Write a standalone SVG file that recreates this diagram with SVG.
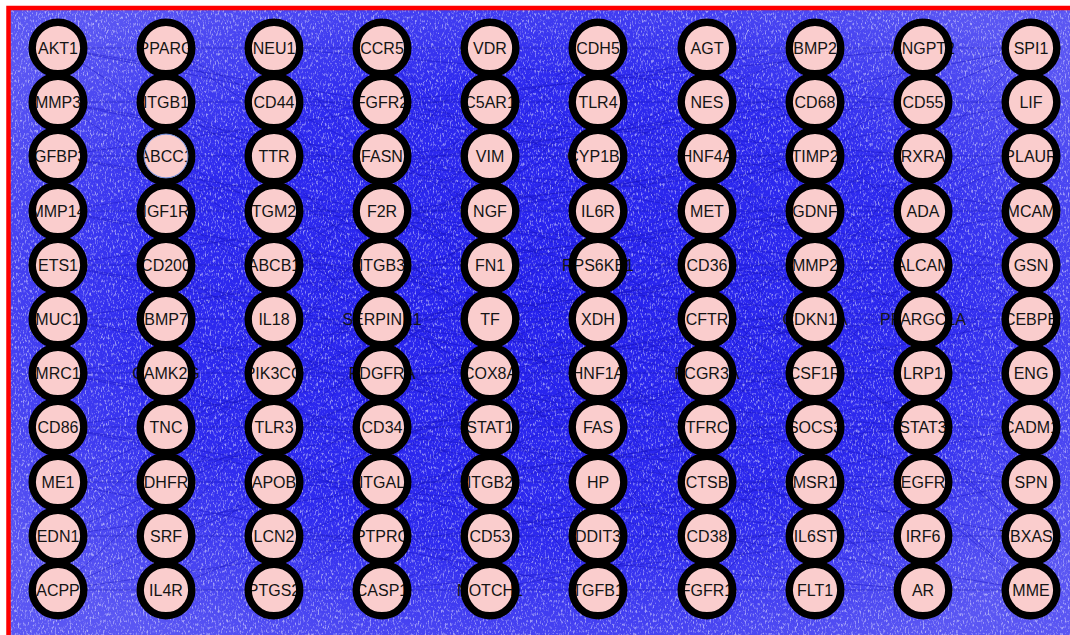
<svg xmlns="http://www.w3.org/2000/svg" width="1070" height="635" viewBox="0 0 1070 635">
<style>
.bg{fill:url(#bgGrad)}
.edge{fill:none;stroke:#1410b8;stroke-width:0.8;stroke-opacity:0.5}
.edge2{fill:none;stroke:#0c0ca8;stroke-width:0.9;stroke-opacity:0.4}
.fill{fill:#facdcd}
.ring{fill:none;stroke:#000;stroke-width:7.4}
.lbl{font-family:"Liberation Sans",Arial,sans-serif;font-size:16px;fill:#141414;text-anchor:middle}
</style>
<defs>
<radialGradient id="bgGrad" cx="50%" cy="48%" r="62%">
<stop offset="0" stop-color="#2622ee"/>
<stop offset="0.6" stop-color="#2e2aef"/>
<stop offset="1" stop-color="#5a56f3"/>
</radialGradient>
<filter id="speck" x="0" y="0" width="100%" height="100%">
<feTurbulence type="fractalNoise" baseFrequency="0.6 0.3" numOctaves="2" seed="7"/>
<feColorMatrix type="matrix" values="0 0 0 0 1  0 0 0 0 1  0 0 0 0 1  4 0 0 0 -2.1"/>
</filter>
<circle id="c" r="25.8"/>
</defs>
<rect x="0" y="0" width="1070" height="635" fill="#ffffff"/>
<rect class="bg" x="10" y="10" width="1065" height="630"/>
<rect x="10" y="10" width="1065" height="630" filter="url(#speck)" opacity="0.5"/>
<g id="connectors">
<path class="edge" d="M58,48L1031,211M58,102L1031,265M58,156L1031,319M58,211L1031,373M58,265L1031,427M58,319L1031,482M58,373L1031,536M58,427L1031,590M58,482L1031,48M58,536L1031,102M58,590L1031,156
M166,48L815,373M166,102L815,427M166,156L815,482M166,211L815,536M166,265L815,590M166,319L815,48M166,373L815,102M166,427L815,156M166,482L815,211M166,536L815,265M166,590L815,319
M274,48L923,102M274,102L923,156M274,156L923,211M274,211L923,265M274,265L923,319M274,319L923,373M274,373L923,427M274,427L923,482M274,482L923,536M274,536L923,590M274,590L923,48
M382,48L707,482M382,102L707,536M382,156L707,590M382,211L707,48M382,265L707,102M382,319L707,156M382,373L707,211M382,427L707,265M382,482L707,319M382,536L707,373M382,590L707,427"/>
<path class="edge" d="M490,48L1031,536M490,102L1031,590M490,156L1031,48M490,211L1031,102M490,265L1031,156M490,319L1031,211M490,373L1031,265M490,427L1031,319M490,482L1031,373M490,536L1031,427M490,590L1031,482
M58,48L598,156M58,102L598,211M58,156L598,265M58,211L598,319M58,265L598,373M58,319L598,427M58,373L598,482M58,427L598,536M58,482L598,590M58,536L598,48M58,590L598,102
M274,48L598,427M274,102L598,482M274,156L598,536M274,211L598,590M274,265L598,48M274,319L598,102M274,373L598,156M274,427L598,211M274,482L598,265M274,536L598,319M274,590L598,373
M166,48L490,265M166,102L490,319M166,156L490,373M166,211L490,427M166,265L490,482M166,319L490,536M166,373L490,590M166,427L490,48M166,482L490,102M166,536L490,156M166,590L490,211"/>
<path class="edge" d="M707,48L1031,319M707,102L1031,373M707,156L1031,427M707,211L1031,482M707,265L1031,536M707,319L1031,590M707,373L1031,48M707,427L1031,102M707,482L1031,156M707,536L1031,211M707,590L1031,265
M382,48L923,590M382,102L923,48M382,156L923,102M382,211L923,156M382,265L923,211M382,319L923,265M382,373L923,319M382,427L923,373M382,482L923,427M382,536L923,482M382,590L923,536
M58,48L815,536M58,102L815,590M58,156L815,48M58,211L815,102M58,265L815,156M58,319L815,211M58,373L815,265M58,427L815,319M58,482L815,373M58,536L815,427M58,590L815,482
M598,48L923,265M598,102L923,319M598,156L923,373M598,211L923,427M598,265L923,482M598,319L923,536M598,373L923,590M598,427L923,48M598,482L923,102M598,536L923,156M598,590L923,211"/>
<path class="edge2" d="M58,48H1031M58,102H1031M58,156H1031M58,211H1031M58,265H1031M58,319H1031M58,373H1031M58,427H1031M58,482H1031M58,536H1031M58,590H1031"/>
</g>
<g id="nodes">
<g id="n_AKT1"><use href="#c" x="58" y="48" class="fill"/><text class="lbl" x="58" y="54">AKT1</text><use href="#c" x="58" y="48" class="ring"/></g>
<g id="n_PPARG"><use href="#c" x="166" y="48" class="fill"/><text class="lbl" x="166" y="54">PPARG</text><use href="#c" x="166" y="48" class="ring"/></g>
<g id="n_NEU1"><use href="#c" x="274" y="48" class="fill"/><text class="lbl" x="274" y="54">NEU1</text><use href="#c" x="274" y="48" class="ring"/></g>
<g id="n_CCR5"><use href="#c" x="382" y="48" class="fill"/><text class="lbl" x="382" y="54">CCR5</text><use href="#c" x="382" y="48" class="ring"/></g>
<g id="n_VDR"><use href="#c" x="490" y="48" class="fill"/><text class="lbl" x="490" y="54">VDR</text><use href="#c" x="490" y="48" class="ring"/></g>
<g id="n_CDH5"><use href="#c" x="598" y="48" class="fill"/><text class="lbl" x="598" y="54">CDH5</text><use href="#c" x="598" y="48" class="ring"/></g>
<g id="n_AGT"><use href="#c" x="707" y="48" class="fill"/><text class="lbl" x="707" y="54">AGT</text><use href="#c" x="707" y="48" class="ring"/></g>
<g id="n_BMP2"><use href="#c" x="815" y="48" class="fill"/><text class="lbl" x="815" y="54">BMP2</text><use href="#c" x="815" y="48" class="ring"/></g>
<g id="n_ANGPT2"><use href="#c" x="923" y="48" class="fill"/><text class="lbl" x="923" y="54">ANGPT2</text><use href="#c" x="923" y="48" class="ring"/></g>
<g id="n_SPI1"><use href="#c" x="1031" y="48" class="fill"/><text class="lbl" x="1031" y="54">SPI1</text><use href="#c" x="1031" y="48" class="ring"/></g>

<g id="n_MMP3"><use href="#c" x="58" y="102" class="fill"/><text class="lbl" x="58" y="108">MMP3</text><use href="#c" x="58" y="102" class="ring"/></g>
<g id="n_ITGB1"><use href="#c" x="166" y="102" class="fill"/><text class="lbl" x="166" y="108">ITGB1</text><use href="#c" x="166" y="102" class="ring"/></g>
<g id="n_CD44"><use href="#c" x="274" y="102" class="fill"/><text class="lbl" x="274" y="108">CD44</text><use href="#c" x="274" y="102" class="ring"/></g>
<g id="n_FGFR2"><use href="#c" x="382" y="102" class="fill"/><text class="lbl" x="382" y="108">FGFR2</text><use href="#c" x="382" y="102" class="ring"/></g>
<g id="n_C5AR1"><use href="#c" x="490" y="102" class="fill"/><text class="lbl" x="490" y="108">C5AR1</text><use href="#c" x="490" y="102" class="ring"/></g>
<g id="n_TLR4"><use href="#c" x="598" y="102" class="fill"/><text class="lbl" x="598" y="108">TLR4</text><use href="#c" x="598" y="102" class="ring"/></g>
<g id="n_NES"><use href="#c" x="707" y="102" class="fill"/><text class="lbl" x="707" y="108">NES</text><use href="#c" x="707" y="102" class="ring"/></g>
<g id="n_CD68"><use href="#c" x="815" y="102" class="fill"/><text class="lbl" x="815" y="108">CD68</text><use href="#c" x="815" y="102" class="ring"/></g>
<g id="n_CD55"><use href="#c" x="923" y="102" class="fill"/><text class="lbl" x="923" y="108">CD55</text><use href="#c" x="923" y="102" class="ring"/></g>
<g id="n_LIF"><use href="#c" x="1031" y="102" class="fill"/><text class="lbl" x="1031" y="108">LIF</text><use href="#c" x="1031" y="102" class="ring"/></g>

<g id="n_IGFBP3"><use href="#c" x="58" y="156" class="fill"/><text class="lbl" x="58" y="162">IGFBP3</text><use href="#c" x="58" y="156" class="ring"/></g>
<g id="n_ABCC1"><use href="#c" x="166" y="156" class="fill"/><text class="lbl" x="166" y="162">ABCC1</text><use href="#c" x="166" y="156" class="ring"/><circle cx="166" cy="156" r="21.9" fill="none" stroke="#6f8fe0" stroke-width="1"/></g>
<g id="n_TTR"><use href="#c" x="274" y="156" class="fill"/><text class="lbl" x="274" y="162">TTR</text><use href="#c" x="274" y="156" class="ring"/></g>
<g id="n_FASN"><use href="#c" x="382" y="156" class="fill"/><text class="lbl" x="382" y="162">FASN</text><use href="#c" x="382" y="156" class="ring"/></g>
<g id="n_VIM"><use href="#c" x="490" y="156" class="fill"/><text class="lbl" x="490" y="162">VIM</text><use href="#c" x="490" y="156" class="ring"/></g>
<g id="n_CYP1B1"><use href="#c" x="598" y="156" class="fill"/><text class="lbl" x="598" y="162">CYP1B1</text><use href="#c" x="598" y="156" class="ring"/></g>
<g id="n_HNF4A"><use href="#c" x="707" y="156" class="fill"/><text class="lbl" x="707" y="162">HNF4A</text><use href="#c" x="707" y="156" class="ring"/></g>
<g id="n_TIMP2"><use href="#c" x="815" y="156" class="fill"/><text class="lbl" x="815" y="162">TIMP2</text><use href="#c" x="815" y="156" class="ring"/></g>
<g id="n_RXRA"><use href="#c" x="923" y="156" class="fill"/><text class="lbl" x="923" y="162">RXRA</text><use href="#c" x="923" y="156" class="ring"/></g>
<g id="n_PLAUR"><use href="#c" x="1031" y="156" class="fill"/><text class="lbl" x="1031" y="162">PLAUR</text><use href="#c" x="1031" y="156" class="ring"/></g>

<g id="n_MMP14"><use href="#c" x="58" y="211" class="fill"/><text class="lbl" x="58" y="217">MMP14</text><use href="#c" x="58" y="211" class="ring"/></g>
<g id="n_IGF1R"><use href="#c" x="166" y="211" class="fill"/><text class="lbl" x="166" y="217">IGF1R</text><use href="#c" x="166" y="211" class="ring"/></g>
<g id="n_TGM2"><use href="#c" x="274" y="211" class="fill"/><text class="lbl" x="274" y="217">TGM2</text><use href="#c" x="274" y="211" class="ring"/></g>
<g id="n_F2R"><use href="#c" x="382" y="211" class="fill"/><text class="lbl" x="382" y="217">F2R</text><use href="#c" x="382" y="211" class="ring"/></g>
<g id="n_NGF"><use href="#c" x="490" y="211" class="fill"/><text class="lbl" x="490" y="217">NGF</text><use href="#c" x="490" y="211" class="ring"/></g>
<g id="n_IL6R"><use href="#c" x="598" y="211" class="fill"/><text class="lbl" x="598" y="217">IL6R</text><use href="#c" x="598" y="211" class="ring"/></g>
<g id="n_MET"><use href="#c" x="707" y="211" class="fill"/><text class="lbl" x="707" y="217">MET</text><use href="#c" x="707" y="211" class="ring"/></g>
<g id="n_GDNF"><use href="#c" x="815" y="211" class="fill"/><text class="lbl" x="815" y="217">GDNF</text><use href="#c" x="815" y="211" class="ring"/></g>
<g id="n_ADA"><use href="#c" x="923" y="211" class="fill"/><text class="lbl" x="923" y="217">ADA</text><use href="#c" x="923" y="211" class="ring"/></g>
<g id="n_MCAM"><use href="#c" x="1031" y="211" class="fill"/><text class="lbl" x="1031" y="217">MCAM</text><use href="#c" x="1031" y="211" class="ring"/></g>

<g id="n_ETS1"><use href="#c" x="58" y="265" class="fill"/><text class="lbl" x="58" y="271">ETS1</text><use href="#c" x="58" y="265" class="ring"/></g>
<g id="n_CD200"><use href="#c" x="166" y="265" class="fill"/><text class="lbl" x="166" y="271">CD200</text><use href="#c" x="166" y="265" class="ring"/></g>
<g id="n_ABCB1"><use href="#c" x="274" y="265" class="fill"/><text class="lbl" x="274" y="271">ABCB1</text><use href="#c" x="274" y="265" class="ring"/></g>
<g id="n_ITGB3"><use href="#c" x="382" y="265" class="fill"/><text class="lbl" x="382" y="271">ITGB3</text><use href="#c" x="382" y="265" class="ring"/></g>
<g id="n_FN1"><use href="#c" x="490" y="265" class="fill"/><text class="lbl" x="490" y="271">FN1</text><use href="#c" x="490" y="265" class="ring"/></g>
<g id="n_RPS6KB1"><use href="#c" x="598" y="265" class="fill"/><text class="lbl" x="598" y="271">RPS6KB1</text><use href="#c" x="598" y="265" class="ring"/></g>
<g id="n_CD36"><use href="#c" x="707" y="265" class="fill"/><text class="lbl" x="707" y="271">CD36</text><use href="#c" x="707" y="265" class="ring"/></g>
<g id="n_MMP2"><use href="#c" x="815" y="265" class="fill"/><text class="lbl" x="815" y="271">MMP2</text><use href="#c" x="815" y="265" class="ring"/></g>
<g id="n_ALCAM"><use href="#c" x="923" y="265" class="fill"/><text class="lbl" x="923" y="271">ALCAM</text><use href="#c" x="923" y="265" class="ring"/></g>
<g id="n_GSN"><use href="#c" x="1031" y="265" class="fill"/><text class="lbl" x="1031" y="271">GSN</text><use href="#c" x="1031" y="265" class="ring"/></g>

<g id="n_MUC1"><use href="#c" x="58" y="319" class="fill"/><text class="lbl" x="58" y="325">MUC1</text><use href="#c" x="58" y="319" class="ring"/></g>
<g id="n_BMP7"><use href="#c" x="166" y="319" class="fill"/><text class="lbl" x="166" y="325">BMP7</text><use href="#c" x="166" y="319" class="ring"/></g>
<g id="n_IL18"><use href="#c" x="274" y="319" class="fill"/><text class="lbl" x="274" y="325">IL18</text><use href="#c" x="274" y="319" class="ring"/></g>
<g id="n_SERPINE1"><use href="#c" x="382" y="319" class="fill"/><text class="lbl" x="382" y="325">SERPINE1</text><use href="#c" x="382" y="319" class="ring"/></g>
<g id="n_TF"><use href="#c" x="490" y="319" class="fill"/><text class="lbl" x="490" y="325">TF</text><use href="#c" x="490" y="319" class="ring"/></g>
<g id="n_XDH"><use href="#c" x="598" y="319" class="fill"/><text class="lbl" x="598" y="325">XDH</text><use href="#c" x="598" y="319" class="ring"/></g>
<g id="n_CFTR"><use href="#c" x="707" y="319" class="fill"/><text class="lbl" x="707" y="325">CFTR</text><use href="#c" x="707" y="319" class="ring"/></g>
<g id="n_CDKN1A"><use href="#c" x="815" y="319" class="fill"/><text class="lbl" x="815" y="325">CDKN1A</text><use href="#c" x="815" y="319" class="ring"/></g>
<g id="n_PPARGC1A"><use href="#c" x="923" y="319" class="fill"/><text class="lbl" x="923" y="325">PPARGC1A</text><use href="#c" x="923" y="319" class="ring"/></g>
<g id="n_CEBPB"><use href="#c" x="1031" y="319" class="fill"/><text class="lbl" x="1031" y="325">CEBPB</text><use href="#c" x="1031" y="319" class="ring"/></g>

<g id="n_MRC1"><use href="#c" x="58" y="373" class="fill"/><text class="lbl" x="58" y="379">MRC1</text><use href="#c" x="58" y="373" class="ring"/></g>
<g id="n_CAMK2G"><use href="#c" x="166" y="373" class="fill"/><text class="lbl" x="166" y="379">CAMK2G</text><use href="#c" x="166" y="373" class="ring"/></g>
<g id="n_PIK3CG"><use href="#c" x="274" y="373" class="fill"/><text class="lbl" x="274" y="379">PIK3CG</text><use href="#c" x="274" y="373" class="ring"/></g>
<g id="n_PDGFRA"><use href="#c" x="382" y="373" class="fill"/><text class="lbl" x="382" y="379">PDGFRA</text><use href="#c" x="382" y="373" class="ring"/></g>
<g id="n_COX8A"><use href="#c" x="490" y="373" class="fill"/><text class="lbl" x="490" y="379">COX8A</text><use href="#c" x="490" y="373" class="ring"/></g>
<g id="n_HNF1A"><use href="#c" x="598" y="373" class="fill"/><text class="lbl" x="598" y="379">HNF1A</text><use href="#c" x="598" y="373" class="ring"/></g>
<g id="n_FCGR3A"><use href="#c" x="707" y="373" class="fill"/><text class="lbl" x="707" y="379">FCGR3A</text><use href="#c" x="707" y="373" class="ring"/></g>
<g id="n_CSF1R"><use href="#c" x="815" y="373" class="fill"/><text class="lbl" x="815" y="379">CSF1R</text><use href="#c" x="815" y="373" class="ring"/></g>
<g id="n_LRP1"><use href="#c" x="923" y="373" class="fill"/><text class="lbl" x="923" y="379">LRP1</text><use href="#c" x="923" y="373" class="ring"/></g>
<g id="n_ENG"><use href="#c" x="1031" y="373" class="fill"/><text class="lbl" x="1031" y="379">ENG</text><use href="#c" x="1031" y="373" class="ring"/></g>

<g id="n_CD86"><use href="#c" x="58" y="427" class="fill"/><text class="lbl" x="58" y="433">CD86</text><use href="#c" x="58" y="427" class="ring"/></g>
<g id="n_TNC"><use href="#c" x="166" y="427" class="fill"/><text class="lbl" x="166" y="433">TNC</text><use href="#c" x="166" y="427" class="ring"/></g>
<g id="n_TLR3"><use href="#c" x="274" y="427" class="fill"/><text class="lbl" x="274" y="433">TLR3</text><use href="#c" x="274" y="427" class="ring"/></g>
<g id="n_CD34"><use href="#c" x="382" y="427" class="fill"/><text class="lbl" x="382" y="433">CD34</text><use href="#c" x="382" y="427" class="ring"/></g>
<g id="n_STAT1"><use href="#c" x="490" y="427" class="fill"/><text class="lbl" x="490" y="433">STAT1</text><use href="#c" x="490" y="427" class="ring"/></g>
<g id="n_FAS"><use href="#c" x="598" y="427" class="fill"/><text class="lbl" x="598" y="433">FAS</text><use href="#c" x="598" y="427" class="ring"/></g>
<g id="n_TFRC"><use href="#c" x="707" y="427" class="fill"/><text class="lbl" x="707" y="433">TFRC</text><use href="#c" x="707" y="427" class="ring"/></g>
<g id="n_SOCS3"><use href="#c" x="815" y="427" class="fill"/><text class="lbl" x="815" y="433">SOCS3</text><use href="#c" x="815" y="427" class="ring"/></g>
<g id="n_STAT3"><use href="#c" x="923" y="427" class="fill"/><text class="lbl" x="923" y="433">STAT3</text><use href="#c" x="923" y="427" class="ring"/></g>
<g id="n_CADM1"><use href="#c" x="1031" y="427" class="fill"/><text class="lbl" x="1031" y="433">CADM1</text><use href="#c" x="1031" y="427" class="ring"/></g>

<g id="n_ME1"><use href="#c" x="58" y="482" class="fill"/><text class="lbl" x="58" y="488">ME1</text><use href="#c" x="58" y="482" class="ring"/></g>
<g id="n_DHFR"><use href="#c" x="166" y="482" class="fill"/><text class="lbl" x="166" y="488">DHFR</text><use href="#c" x="166" y="482" class="ring"/></g>
<g id="n_APOB"><use href="#c" x="274" y="482" class="fill"/><text class="lbl" x="274" y="488">APOB</text><use href="#c" x="274" y="482" class="ring"/></g>
<g id="n_ITGAL"><use href="#c" x="382" y="482" class="fill"/><text class="lbl" x="382" y="488">ITGAL</text><use href="#c" x="382" y="482" class="ring"/></g>
<g id="n_ITGB2"><use href="#c" x="490" y="482" class="fill"/><text class="lbl" x="490" y="488">ITGB2</text><use href="#c" x="490" y="482" class="ring"/></g>
<g id="n_HP"><use href="#c" x="598" y="482" class="fill"/><text class="lbl" x="598" y="488">HP</text><use href="#c" x="598" y="482" class="ring"/></g>
<g id="n_CTSB"><use href="#c" x="707" y="482" class="fill"/><text class="lbl" x="707" y="488">CTSB</text><use href="#c" x="707" y="482" class="ring"/></g>
<g id="n_MSR1"><use href="#c" x="815" y="482" class="fill"/><text class="lbl" x="815" y="488">MSR1</text><use href="#c" x="815" y="482" class="ring"/></g>
<g id="n_EGFR"><use href="#c" x="923" y="482" class="fill"/><text class="lbl" x="923" y="488">EGFR</text><use href="#c" x="923" y="482" class="ring"/></g>
<g id="n_SPN"><use href="#c" x="1031" y="482" class="fill"/><text class="lbl" x="1031" y="488">SPN</text><use href="#c" x="1031" y="482" class="ring"/></g>

<g id="n_EDN1"><use href="#c" x="58" y="536" class="fill"/><text class="lbl" x="58" y="542">EDN1</text><use href="#c" x="58" y="536" class="ring"/></g>
<g id="n_SRF"><use href="#c" x="166" y="536" class="fill"/><text class="lbl" x="166" y="542">SRF</text><use href="#c" x="166" y="536" class="ring"/></g>
<g id="n_LCN2"><use href="#c" x="274" y="536" class="fill"/><text class="lbl" x="274" y="542">LCN2</text><use href="#c" x="274" y="536" class="ring"/></g>
<g id="n_PTPRC"><use href="#c" x="382" y="536" class="fill"/><text class="lbl" x="382" y="542">PTPRC</text><use href="#c" x="382" y="536" class="ring"/></g>
<g id="n_CD53"><use href="#c" x="490" y="536" class="fill"/><text class="lbl" x="490" y="542">CD53</text><use href="#c" x="490" y="536" class="ring"/></g>
<g id="n_DDIT3"><use href="#c" x="598" y="536" class="fill"/><text class="lbl" x="598" y="542">DDIT3</text><use href="#c" x="598" y="536" class="ring"/></g>
<g id="n_CD38"><use href="#c" x="707" y="536" class="fill"/><text class="lbl" x="707" y="542">CD38</text><use href="#c" x="707" y="536" class="ring"/></g>
<g id="n_IL6ST"><use href="#c" x="815" y="536" class="fill"/><text class="lbl" x="815" y="542">IL6ST</text><use href="#c" x="815" y="536" class="ring"/></g>
<g id="n_IRF6"><use href="#c" x="923" y="536" class="fill"/><text class="lbl" x="923" y="542">IRF6</text><use href="#c" x="923" y="536" class="ring"/></g>
<g id="n_TBXAS1"><use href="#c" x="1031" y="536" class="fill"/><text class="lbl" x="1031" y="542">TBXAS1</text><use href="#c" x="1031" y="536" class="ring"/></g>

<g id="n_ACPP"><use href="#c" x="58" y="590" class="fill"/><text class="lbl" x="58" y="596">ACPP</text><use href="#c" x="58" y="590" class="ring"/></g>
<g id="n_IL4R"><use href="#c" x="166" y="590" class="fill"/><text class="lbl" x="166" y="596">IL4R</text><use href="#c" x="166" y="590" class="ring"/></g>
<g id="n_PTGS2"><use href="#c" x="274" y="590" class="fill"/><text class="lbl" x="274" y="596">PTGS2</text><use href="#c" x="274" y="590" class="ring"/></g>
<g id="n_CASP1"><use href="#c" x="382" y="590" class="fill"/><text class="lbl" x="382" y="596">CASP1</text><use href="#c" x="382" y="590" class="ring"/></g>
<g id="n_NOTCH1"><use href="#c" x="490" y="590" class="fill"/><text class="lbl" x="490" y="596">NOTCH1</text><use href="#c" x="490" y="590" class="ring"/></g>
<g id="n_TGFB1"><use href="#c" x="598" y="590" class="fill"/><text class="lbl" x="598" y="596">TGFB1</text><use href="#c" x="598" y="590" class="ring"/></g>
<g id="n_FGFR1"><use href="#c" x="707" y="590" class="fill"/><text class="lbl" x="707" y="596">FGFR1</text><use href="#c" x="707" y="590" class="ring"/></g>
<g id="n_FLT1"><use href="#c" x="815" y="590" class="fill"/><text class="lbl" x="815" y="596">FLT1</text><use href="#c" x="815" y="590" class="ring"/></g>
<g id="n_AR"><use href="#c" x="923" y="590" class="fill"/><text class="lbl" x="923" y="596">AR</text><use href="#c" x="923" y="590" class="ring"/></g>
<g id="n_MME"><use href="#c" x="1031" y="590" class="fill"/><text class="lbl" x="1031" y="596">MME</text><use href="#c" x="1031" y="590" class="ring"/></g>
</g>
<rect x="8.5" y="8" width="1070" height="640" fill="none" stroke="#ff0000" stroke-width="4.5"/>
</svg>
